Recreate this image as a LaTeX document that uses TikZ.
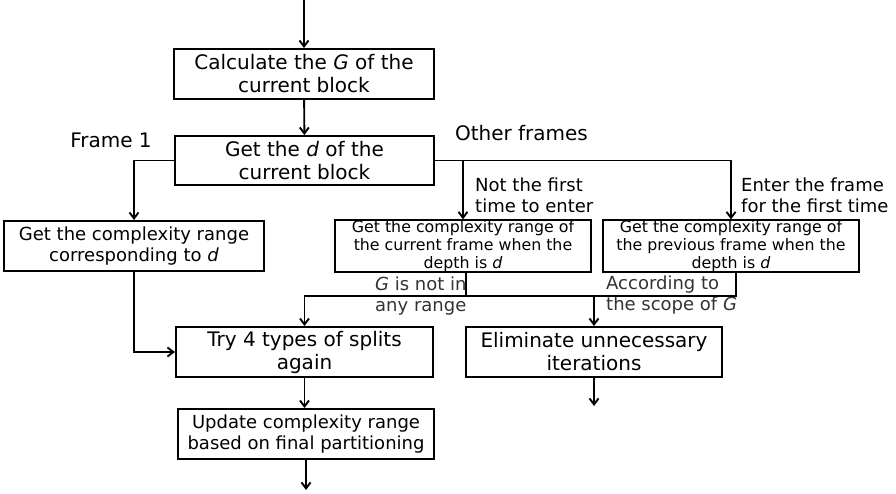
\documentclass[tikz,border=0pt]{standalone}
\usepackage{fontspec}
\setmainfont{DejaVu Sans}
\usetikzlibrary{arrows.meta,positioning,calc}
\tikzset{
  box/.style={draw, line width=1.9pt, inner sep=0pt, align=center, minimum width=#1, minimum height=50pt},
  bigtxt/.style={font=\fontsize{20}{23}\selectfont},
  midtxt/.style={font=\fontsize{18}{21}\selectfont},
  smalltxt/.style={font=\fontsize{15.8}{18}\selectfont},
  lbl/.style={inner sep=0pt, align=left, anchor=west},
  arr/.style={line width=1.9pt, -{Straight Barb[length=6pt,width=9pt,line width=1.9pt]}},
  ln/.style={line width=1.9pt}
}
\begin{document}
\begin{tikzpicture}[x=1pt,y=-1pt]
\useasboundingbox (0,0) rectangle (896,494);
\coordinate (top) at (304,0);
\node[box=260pt, bigtxt] (b1) at (304,74) {Calculate the \textit{G} of the\\current block};
\node[box=259pt, bigtxt, minimum height=49pt] (b2) at (304.5,160.5) {Get the \textit{d} of the\\current block};
\node[box=260pt, midtxt] (b3) at (134,246) {Get the complexity range\\corresponding to \textit{d}};
\node[box=256pt, smalltxt] (b4) at (463,246) {Get the complexity range of\\the current frame when the\\depth is \textit{d}};
\node[box=256pt, smalltxt] (b5) at (731,246) {Get the complexity range of\\the previous frame when the\\depth is \textit{d}};
\node[box=257pt, bigtxt] (b6) at (304.5,352) {Try 4 types of splits\\again};
\node[box=256pt, bigtxt] (b7) at (594,352) {Eliminate unnecessary\\iterations};
\node[box=256pt, midtxt] (b8) at (306,434) {Update complexity range\\based on final partitioning};
\coordinate (e1) at (306,490);
\coordinate (e2) at (594,406);
\coordinate (jL) at (466,296);
\coordinate (jR) at (736,296);

\node[bigtxt, inner sep=0pt] (f1) at (111,140) {Frame 1};
\node[bigtxt, inner sep=0pt] (of) at (521.5,133) {Other frames};
\node[lbl, midtxt] (l1) at (475,195) {Not the first\\time to enter};
\node[lbl, midtxt] (l2) at (741,195) {Enter the frame\\for the first time};
\node[lbl, midtxt, text=black!80] (l3) at (375,296) {\textit{G} is not in\\any range};
\node[lbl, midtxt, text=black!80] (l4) at (606,295) {According to\\the scope of \textit{G}};

\draw[arr] (top) -- (b1.north);
\draw[arr] (b1) -- (b2);
\draw[arr] (b2.west) -| (b3.north);
\draw[arr] (b2.east) -| (b5.north);
\draw[arr] (b4.north |- b2.east) -- (b4.north);
\draw[arr] (b3.south) |- (b6.west);
\draw[arr] (b6.south) -- (b6.south |- b8.north);
\draw[arr] (b8.south) -- (e1);
\draw[ln] (jL |- b4.south) -- (jL) -- (jR) -- (jR |- b5.south);
\draw[arr] (jL) -| (b6.north);
\draw[arr] (b7.north |- jL) -- (b7.north);
\draw[arr] (b7.south) -- (e2);
\end{tikzpicture}
\end{document}
